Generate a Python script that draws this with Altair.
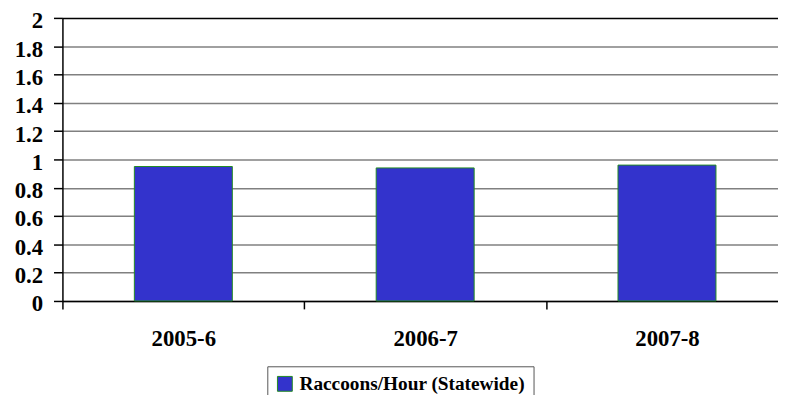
import altair as alt
import pandas as pd

categories = ["2005-6", "2006-7", "2007-8"]
values = [0.95, 0.94, 0.96]
series_name = "Raccoons/Hour (Statewide)"
y_ticks = [0, 0.2, 0.4, 0.6, 0.8, 1.0, 1.2, 1.4, 1.6, 1.8, 2.0]

df = pd.DataFrame({
    "season": categories,
    "rate": values,
    "series": [series_name] * len(categories),
})

FONT = "Liberation Serif"
BAR_FILL = "#3333CC"
BAR_EDGE = "#228B22"

x_enc = alt.X(
    "season:N",
    sort=categories,
    title=None,
    scale=alt.Scale(range=[0, 733], paddingInner=0, paddingOuter=0),
    axis=alt.Axis(tickBand="extent", tickSize=8, labelPadding=19, grid=False,
                  labelOverlap=False, labelFontSize=23),
)

y_enc = alt.Y(
    "rate:Q",
    title=None,
    scale=alt.Scale(domain=[0, 2], nice=False),
    axis=alt.Axis(
        values=y_ticks, format="~g", tickSize=9, labelPadding=11,
        labelOffset=3, grid=True, labelOverlap=False, labelFontSize=23,
        gridColor={"condition": {"test": "datum.value >= 2", "value": "black"},
                   "value": "#808080"},
    ),
)

bars = alt.Chart(df).mark_bar(size=99, stroke=BAR_EDGE, strokeWidth=1).encode(
    x=x_enc,
    y=y_enc,
    color=alt.Color(
        "series:N",
        scale=alt.Scale(range=[BAR_FILL]),
        legend=alt.Legend(title=None, orient="none", legendX=207, legendY=352),
    ),
)

chart = bars.properties(
    width=723,
    height=286,
    autosize=alt.AutoSizeParams(type="none"),
    padding={"left": 55, "top": 8, "right": 0, "bottom": 93},
).configure_view(
    stroke=None
).configure_axis(
    labelFont=FONT, labelFontSize=23, labelFontWeight="bold", labelColor="black",
    labelOverlap=False, labelFlush=False, labelAngle=0,
    tickColor="black", tickWidth=1.5, domainColor="black", domainWidth=1.5,
    gridWidth=1.5,
).configure_legend(
    strokeColor="#555555", fillColor="white", padding=8,
    symbolType="square", symbolSize=225, symbolStrokeColor=BAR_EDGE,
    symbolStrokeWidth=1, labelFont=FONT, labelFontSize=19.5,
    labelFontWeight="bold", labelColor="black", labelOffset=5, labelLimit=400,
)

chart.save("out.html", embed_options={"renderer": "svg", "actions": False})
